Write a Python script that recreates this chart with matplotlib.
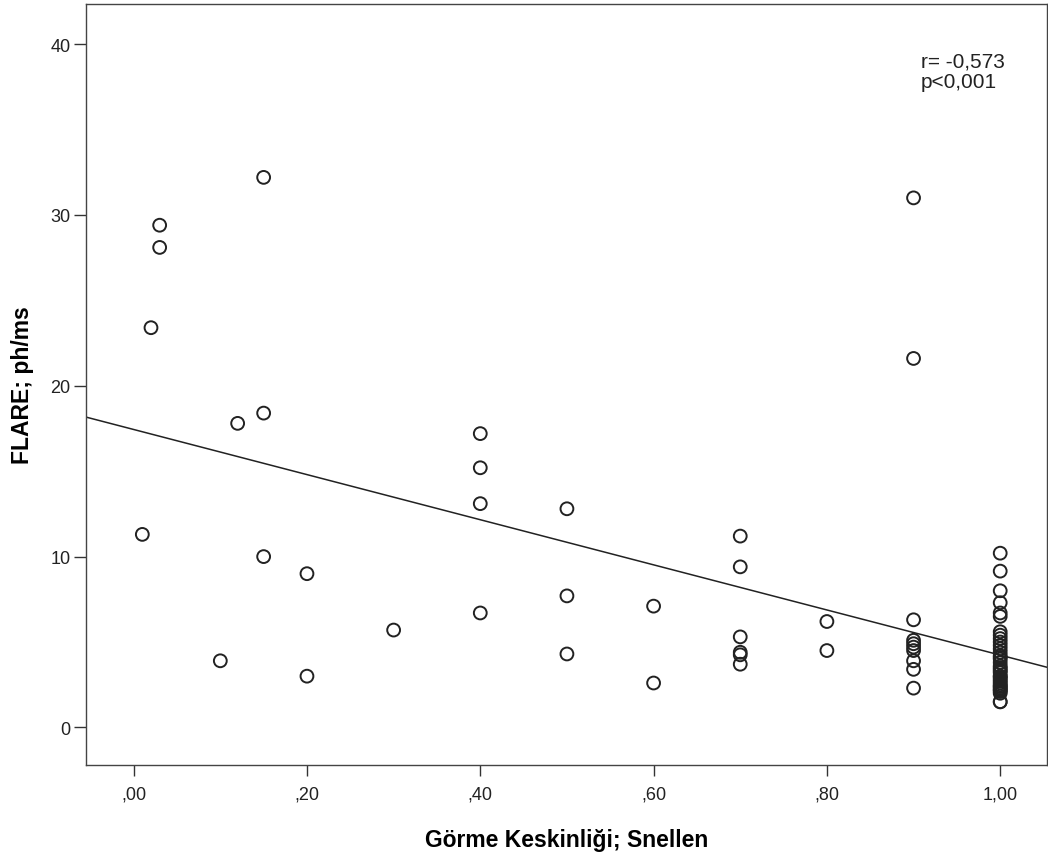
import numpy as np
import matplotlib
matplotlib.use("Agg")
import matplotlib.pyplot as plt

plt.rcParams['font.family'] = ['Liberation Sans', 'DejaVu Sans']

# Visual acuity (Snellen) values
acuity = [0.01, 0.02, 0.03, 0.03, 0.10, 0.12, 0.15, 0.15, 0.15, 0.20, 0.20, 0.30,
          0.40, 0.40, 0.40, 0.40, 0.50, 0.50, 0.50, 0.60, 0.60,
          0.70, 0.70, 0.70, 0.70, 0.70, 0.70, 0.80, 0.80,
          0.90, 0.90, 0.90, 0.90, 0.90, 0.90, 0.90, 0.90, 0.90, 0.90,
          1.00, 1.00, 1.00, 1.00, 1.00, 1.00, 1.00, 1.00, 1.00, 1.00,
          1.00, 1.00, 1.00, 1.00, 1.00, 1.00, 1.00, 1.00, 1.00, 1.00,
          1.00, 1.00, 1.00, 1.00, 1.00, 1.00, 1.00, 1.00, 1.00, 1.00,
          1.00, 1.00, 1.00, 1.00, 1.00, 1.00, 1.00, 1.00]
# FLARE values (ph/ms)
flare = [11.3, 23.4, 28.1, 29.4, 3.9, 17.8, 32.2, 18.4, 10.0, 9.0, 3.0, 5.7,
         17.2, 15.2, 13.1, 6.7, 12.8, 7.7, 4.3, 7.1, 2.6,
         11.2, 9.4, 5.3, 4.4, 4.25, 3.7, 6.2, 4.5,
         31.0, 21.6, 6.3, 5.1, 4.9, 4.7, 4.5, 3.9, 3.4, 2.3,
         10.2, 9.15, 8.0, 7.3, 6.7, 6.5, 5.6, 5.4, 5.2, 5.0,
         4.8, 4.6, 4.4, 4.2, 4.0, 3.8, 3.6, 3.4, 3.2, 3.0,
         2.8, 2.6, 2.4, 2.2, 2.1, 1.5, 1.5, 4.1, 3.5, 2.9,
         2.0, 2.3, 2.5, 2.7, 3.0, 3.3, 2.2, 2.4]

x_ticks = [0.0, 0.2, 0.4, 0.6, 0.8, 1.0]
x_tick_labels = [",00", ",20", ",40", ",60", ",80", "1,00"]
y_ticks = [0, 10, 20, 30, 40]
stat_text = "r= -0,573\np<0,001"

x = np.array(acuity)
y = np.array(flare)

fig = plt.figure(figsize=(10.48, 8.53), dpi=100)
ax = fig.add_axes([86/1048, 87/853, 961/1048, 761/853])

xmin, xmax = -0.055, 1.054
ax.set_xlim(xmin, xmax)
ax.set_ylim(-2.2, 42.35)

slope, intercept = np.polyfit(x, y, 1)
xl = np.array([xmin, xmax])
ax.plot(xl, slope * xl + intercept, color='#222222', lw=1.1, zorder=2)

ax.scatter(x, y, s=85, facecolors='none', edgecolors='#222222', linewidths=1.4, zorder=3)

ax.set_xticks(x_ticks)
ax.set_xticklabels(x_tick_labels)
ax.set_yticks(y_ticks)
ax.tick_params(axis='both', direction='out', width=1, color='#333333',
               labelsize=13, labelcolor='#222222')
ax.tick_params(axis='x', length=8, pad=7)
ax.tick_params(axis='y', length=9, pad=2)

for s in ax.spines.values():
    s.set_color('#444444')
    s.set_linewidth(1.0)

ax.set_xlabel("Görme Keskinliği; Snellen", fontsize=16.5, fontweight='bold', labelpad=18)
ax.set_ylabel("FLARE; ph/ms", fontsize=16.5, fontweight='bold', labelpad=12)

ax.text(0.869, 0.937, stat_text, transform=ax.transAxes, fontsize=15,
        va='top', ha='left', color='#222222', linespacing=1.05)

fig.savefig("out.png", dpi=100)
